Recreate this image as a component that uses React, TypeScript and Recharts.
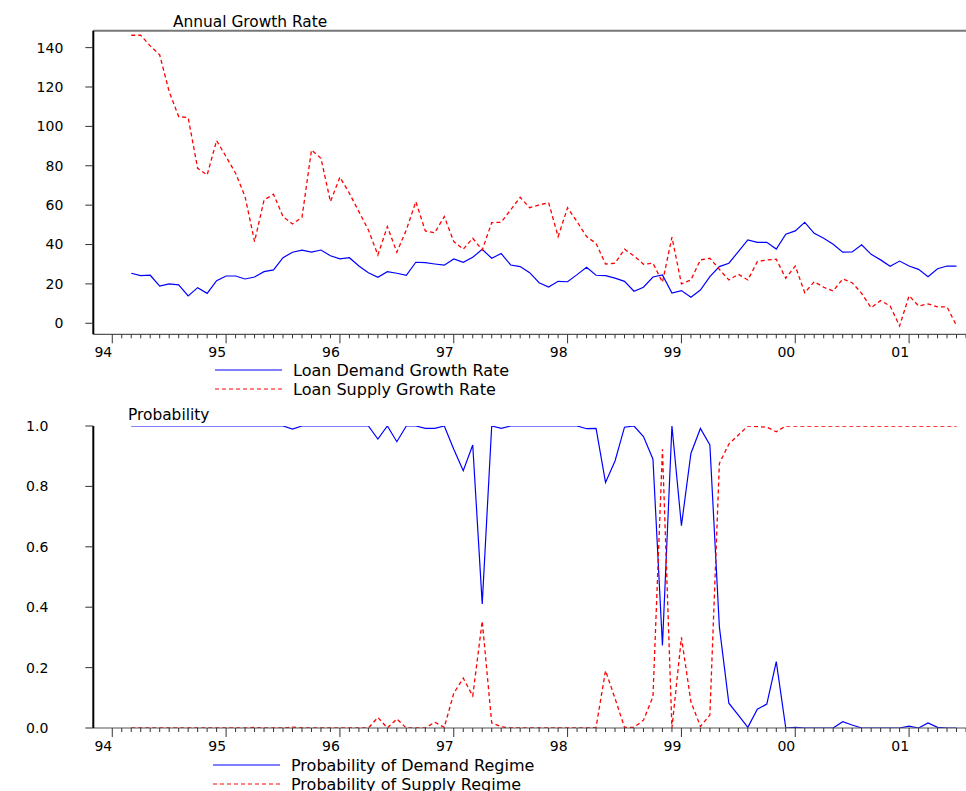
import React from "react";
import { LineChart, Line, XAxis, YAxis, Legend, ReferenceLine } from "recharts";

// monthly observations, first one is 1994:03
const startYear = 94;
const startMonth = 3;

const demandGrowth = [
  25.4, 24.2, 24.4, 18.9, 20, 19.5, 13.9, 18.1, 15.2, 21.6,
  24, 24, 22.5, 23.5, 26.2, 27.1, 33.3, 36.1, 37.1, 36.1,
  37.2, 34.3, 32.7, 33.3, 29.1, 25.7, 23.4, 26.2, 25.4, 24.4,
  31, 30.8, 30.1, 29.5, 32.7, 31, 33.5, 37.6, 33, 35.4,
  29.6, 28.8, 25.7, 20.6, 18.4, 21.3, 21.1, 24.7, 28.4, 24.4,
  24.2, 22.9, 21.3, 16.3, 18.3, 23.5, 24.5, 15.3, 16.6, 13.2,
  16.9, 23.7, 28.8, 30.5, 36.4, 42.3, 41.1, 41.1, 37.7, 45.2,
  46.9, 51.3, 45.7, 43.2, 40.1, 36.1, 36.2, 39.9, 35, 32.2,
  29, 31.6, 29.1, 27.4, 23.7, 27.7, 29.1, 29,
];

const supplyGrowth = [
  146.3, 146.3, 140.9, 136.3, 117.6, 105, 104.4, 78.7, 75.3, 92.8,
  84.6, 76.2, 64.3, 41.5, 62.6, 65.5, 54.2, 50.4, 53.8, 88,
  83.8, 61.8, 74.2, 66, 56.7, 47.4, 34.7, 49.1, 36.1, 47.4,
  61.8, 46.9, 46, 54.2, 41.5, 37.6, 43.2, 37.2, 51.1, 51.3,
  57.6, 64, 58.7, 60.1, 61.3, 44, 58.7, 51.6, 44, 40.6,
  30.1, 30.5, 37.6, 34.2, 30, 30.5, 20.8, 43.7, 20, 22,
  32.2, 33, 27.4, 22, 24.9, 22, 31.3, 32.2, 32.5, 22.9,
  29.1, 15.5, 21.1, 18.3, 16.4, 22.5, 20.6, 15.2, 7.9, 11.5,
  8.8, -1.4, 14, 8.8, 9.8, 8.3, 8.3, -1.2,
];

const probDemand = [
  1, 1, 1, 1, 1, 1, 1, 1, 1, 1,
  1, 1, 1, 1, 1, 1, 1, 0.99, 1, 1,
  1, 1, 1, 1, 1, 1, 0.957, 1, 0.948, 1,
  1, 0.992, 0.992, 1, 0.923, 0.852, 0.937, 0.411, 1, 0.992,
  1, 1, 1, 1, 1, 1, 1, 1, 0.991, 0.992,
  0.813, 0.884, 0.996, 1, 0.965, 0.89, 0.273, 1, 0.67, 0.909,
  0.992, 0.937, 0.335, 0.082, 0.043, 0.002, 0.062, 0.079, 0.22, 0,
  0.002, 0, 0, 0, 0, 0.021, 0.01, 0, 0, 0,
  0, 0, 0.006, 0, 0.017, 0.002, 0, 0,
];

const probSupply = [
  0, 0, 0, 0, 0, 0, 0, 0, 0, 0,
  0, 0, 0, 0.002, 0, 0, 0, 0.003, 0, 0,
  0, 0, 0, 0, 0, 0, 0.035, 0, 0.03, 0,
  0, 0, 0.019, 0.002, 0.115, 0.165, 0.106, 0.354, 0.017, 0.004,
  0, 0, 0, 0, 0, 0, 0, 0, 0, 0.002,
  0.19, 0.098, 0.002, 0.002, 0.026, 0.104, 0.923, 0, 0.3, 0.087,
  0.005, 0.043, 0.876, 0.94, 0.97, 1, 0.998, 0.996, 0.981, 1,
  1, 1, 1, 1, 1, 1, 1, 1, 1, 1,
  1, 1, 1, 1, 1, 1, 1, 1,
];

const growthTicks = [0, 20, 40, 60, 80, 100, 120, 140];
const probTicks = [0, 0.2, 0.4, 0.6, 0.8, 1.0];

const FONT = "'DejaVu Sans', sans-serif";

const growthData = demandGrowth.map((d, i) => ({
  t: startYear + (startMonth - 1 + i) / 12,
  demand: d,
  supply: supplyGrowth[i],
}));

const probData = probDemand.map((d, i) => ({
  t: startYear + (startMonth - 1 + i) / 12,
  demand: d,
  supply: probSupply[i],
}));

// month ticks from 94:01 to 01:07
const monthTicks: number[] = [];
for (let m = 0; m <= 90; m++) monthTicks.push(startYear + m / 12);

const xDomain = [startYear - 2 / 12, 101.5];

const MonthTick = (props: any) => {
  const { x, y, payload } = props;
  const m = Math.round((payload.value - startYear) * 12);
  const major = m % 12 === 0;
  const yr = (startYear + m / 12) % 100;
  return (
    <g>
      <line x1={x} x2={x} y1={y} y2={y + (major ? 9 : 4)} stroke="#333" strokeWidth={1} />
      {major && (
        <text x={x} y={y + 22.5} textAnchor="end" fontSize={14} fontFamily={FONT} fill="#000">
          {String(yr).padStart(2, "0")}
        </text>
      )}
    </g>
  );
};

const TwoRowLegend = ({ payload }: any) => (
  <div style={{ fontFamily: FONT, fontSize: 16, color: "#000" }}>
    {(payload || []).map((p: any) => (
      <div key={p.value} style={{ display: "flex", alignItems: "center", height: 19 }}>
        <svg width={67} height={10}>
          <line
            x1={0}
            x2={67}
            y1={5}
            y2={5}
            stroke={p.color}
            strokeWidth={1}
            strokeDasharray={p.payload?.strokeDasharray}
          />
        </svg>
        <span style={{ marginLeft: 11, whiteSpace: "nowrap" }}>{p.value}</span>
      </div>
    ))}
  </div>
);

const title: React.CSSProperties = {
  position: "absolute",
  fontFamily: FONT,
  fontSize: 15.4,
  lineHeight: "15px",
  color: "#000",
  whiteSpace: "nowrap",
};

export default function App() {
  return (
    <div style={{ position: "absolute", left: 0, top: 0, width: 966, height: 791, background: "#fff" }}>
      <div style={{ position: "absolute", left: 0, top: 0 }}>
        <LineChart width={966} height={400} data={growthData} margin={{ top: 30.7, right: 0, bottom: 0, left: 0 }}>
          <XAxis
            dataKey="t"
            type="number"
            domain={xDomain}
            ticks={monthTicks}
            allowDataOverflow
            height={65.7}
            tickSize={0}
            tickMargin={0}
            tickLine={false}
            tick={<MonthTick />}
            interval={0}
            axisLine={{ stroke: "#555", strokeWidth: 1.2 }}
          />
          <YAxis
            type="number"
            domain={[-5.6, 148.6]}
            ticks={growthTicks}
            allowDataOverflow
            width={93.3}
            tickSize={8}
            tickMargin={22}
            tickLine={{ stroke: "#333" }}
            axisLine={{ stroke: "#000", strokeWidth: 2 }}
            tick={{ fontSize: 14, fontFamily: FONT, fill: "#000" }}
            interval={0}
          />
          <ReferenceLine y={148.6} stroke="#777" strokeWidth={2} ifOverflow="visible" />
          <Line
            name="Loan Demand Growth Rate"
            dataKey="demand"
            type="linear"
            stroke="#0000ff"
            strokeWidth={1.2}
            dot={false}
            isAnimationActive={false}
          />
          <Line
            name="Loan Supply Growth Rate"
            dataKey="supply"
            type="linear"
            stroke="#ff0000"
            strokeWidth={1.3}
            strokeDasharray="4 3"
            dot={false}
            isAnimationActive={false}
          />
          <Legend
            layout="horizontal"
            verticalAlign="middle"
            content={<TwoRowLegend />}
            wrapperStyle={{ left: 215, top: 360.5, width: 400 }}
          />
        </LineChart>
        <div style={{ ...title, left: 173, top: 15 }}>Annual Growth Rate</div>
      </div>

      <div style={{ position: "absolute", left: 0, top: 400 }}>
        <LineChart width={966} height={391} data={probData} margin={{ top: 26, right: 0, bottom: 0, left: 0 }}>
          <XAxis
            dataKey="t"
            type="number"
            domain={xDomain}
            ticks={monthTicks}
            allowDataOverflow
            height={63}
            tickSize={0}
            tickMargin={0}
            tickLine={false}
            tick={<MonthTick />}
            interval={0}
            axisLine={{ stroke: "#555", strokeWidth: 1.2 }}
          />
          <YAxis
            type="number"
            domain={[0, 1]}
            ticks={probTicks}
            allowDataOverflow
            width={93.3}
            tickSize={8}
            tickMargin={37}
            tickLine={{ stroke: "#333" }}
            axisLine={{ stroke: "#000", strokeWidth: 2 }}
            tick={{ fontSize: 14, fontFamily: FONT, fill: "#000" }}
            tickFormatter={(v: number) => v.toFixed(1)}
            interval={0}
          />
          <Line
            name="Probability of Demand Regime"
            dataKey="demand"
            type="linear"
            stroke="#0000ff"
            strokeWidth={1.2}
            dot={false}
            isAnimationActive={false}
          />
          <Line
            name="Probability of Supply Regime"
            dataKey="supply"
            type="linear"
            stroke="#ff0000"
            strokeWidth={1.3}
            strokeDasharray="4 3"
            dot={false}
            isAnimationActive={false}
          />
          <Legend
            layout="horizontal"
            verticalAlign="middle"
            content={<TwoRowLegend />}
            wrapperStyle={{ left: 213, top: 355.5, width: 400 }}
          />
        </LineChart>
        <div style={{ ...title, left: 128, top: 8 }}>Probability</div>
      </div>
    </div>
  );
}
